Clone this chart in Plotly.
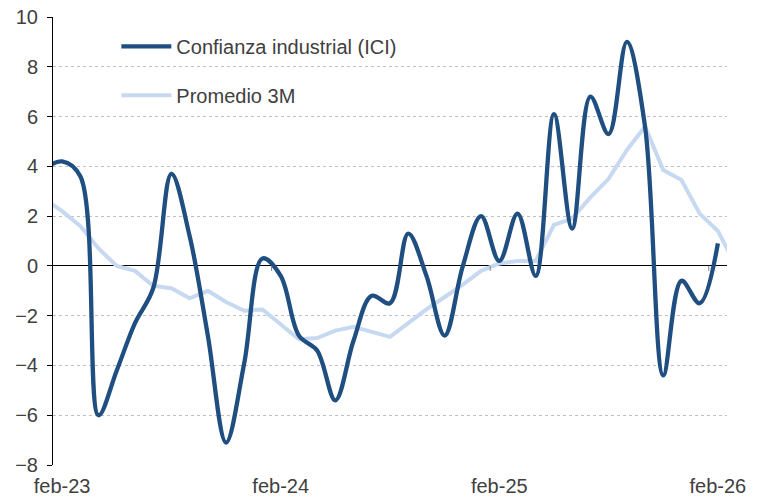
import plotly.graph_objects as go

# Month categories (jan-23 and mar-26 fall just outside the visible axis window)
months = ["jan-23", "feb-23", "mar-23", "apr-23", "may-23", "jun-23", "jul-23", "aug-23",
          "sep-23", "oct-23", "nov-23", "dec-23", "jan-24", "feb-24", "mar-24", "apr-24",
          "may-24", "jun-24", "jul-24", "aug-24", "sep-24", "oct-24", "nov-24", "dec-24",
          "jan-25", "feb-25", "mar-25", "apr-25", "may-25", "jun-25", "jul-25", "aug-25",
          "sep-25", "oct-25", "nov-25", "dec-25", "jan-26", "feb-26", "mar-26"]

# Confianza industrial (ICI), jan-23 .. feb-26
ici = [3.9, 4.2, 3.6, -6.0, -4.2, -2.3, -0.9, 3.7,
       1.2, -2.8, -7.1, -3.9, 0.3, -0.4, -2.8, -3.4,
       -5.4, -3.0, -1.2, -1.5, 1.3, -0.4, -2.8, 0.0,
       2.0, 0.2, 2.1, -0.4, 6.1, 1.5, 6.8, 5.3,
       9.0, 5.6, -4.4, -0.6, -1.5, 0.9]

# Promedio 3M, jan-23 .. mar-26
prom3m = [2.7, 2.2, 1.6, 0.7, 0.0, -0.2, -0.8, -0.9,
          -1.3, -1.0, -1.45, -1.8, -1.75, -2.35, -2.95, -2.9,
          -2.6, -2.45, -2.65, -2.85, -2.3, -1.75, -1.25, -0.75,
          -0.2, 0.1, 0.2, 0.2, 1.65, 1.9, 2.75, 3.5,
          4.65, 5.6, 3.85, 3.45, 2.1, 1.4, 0.0]

x_tick_labels = ["feb-23", "feb-24", "feb-25", "feb-26"]
y_tick_values = [-8, -6, -4, -2, 0, 2, 4, 6, 8, 10]

x_ici = list(range(len(ici)))
x_prom = list(range(len(prom3m)))
x_tick_vals = [months.index(m) for m in x_tick_labels]

TEXT = "#404040"
FONT = "Liberation Sans"

fig = go.Figure()
fig.add_trace(go.Scatter(
    x=x_prom, y=prom3m, name="Promedio 3M", mode="lines",
    line=dict(color="#C6D9F1", width=4), legendgroup="b", legendrank=2,
    hoverinfo="skip"))
fig.add_trace(go.Scatter(
    x=x_ici, y=ici, name="Confianza industrial (ICI)", mode="lines",
    line=dict(color="#1F4E80", width=4.3, shape="spline", smoothing=1),
    legendgroup="a", legendrank=1, hoverinfo="skip"))

# small category tick marks on the zero line (bucket boundaries before each labelled month)
shapes = [dict(type="line", xref="x", yref="y", x0=v - 0.5, x1=v - 0.5, y0=0, y1=-0.2,
               line=dict(color="#7F7F7F", width=1)) for v in x_tick_vals[1:]]

fig.update_layout(
    width=762, height=498,
    margin=dict(l=53, r=35, t=17, b=33),
    paper_bgcolor="white", plot_bgcolor="white",
    font=dict(family=FONT, size=20, color=TEXT),
    showlegend=True,
    legend=dict(x=0.094, y=0.978, xanchor="left", yanchor="top",
                bgcolor="rgba(0,0,0,0)", borderwidth=0,
                font=dict(family=FONT, size=20, color=TEXT),
                itemwidth=50, traceorder="grouped", tracegroupgap=20),
    shapes=shapes,
    xaxis=dict(range=[0.5, 37.5], tickvals=x_tick_vals, ticktext=x_tick_labels,
               showgrid=False, zeroline=False, showline=False, ticks="",
               automargin=False,
               ticklabelstandoff=7, tickfont=dict(family=FONT, size=20, color=TEXT)),
    yaxis=dict(range=[-8, 10], tickvals=y_tick_values, showgrid=True,
               gridcolor="#BFBFBF", griddash="dot", gridwidth=1,
               zeroline=True, zerolinecolor="black", zerolinewidth=1,
               showline=True, linecolor="black", linewidth=1,
               ticks="outside", ticklen=5, tickcolor="black", automargin=False,
               ticklabelstandoff=5, tickfont=dict(family=FONT, size=20, color=TEXT)),
)

fig.write_html(
    "out.html",
    config={"displayModeBar": False},
    post_script="document.body.style.margin='0';document.body.style.overflow='hidden';",
)
